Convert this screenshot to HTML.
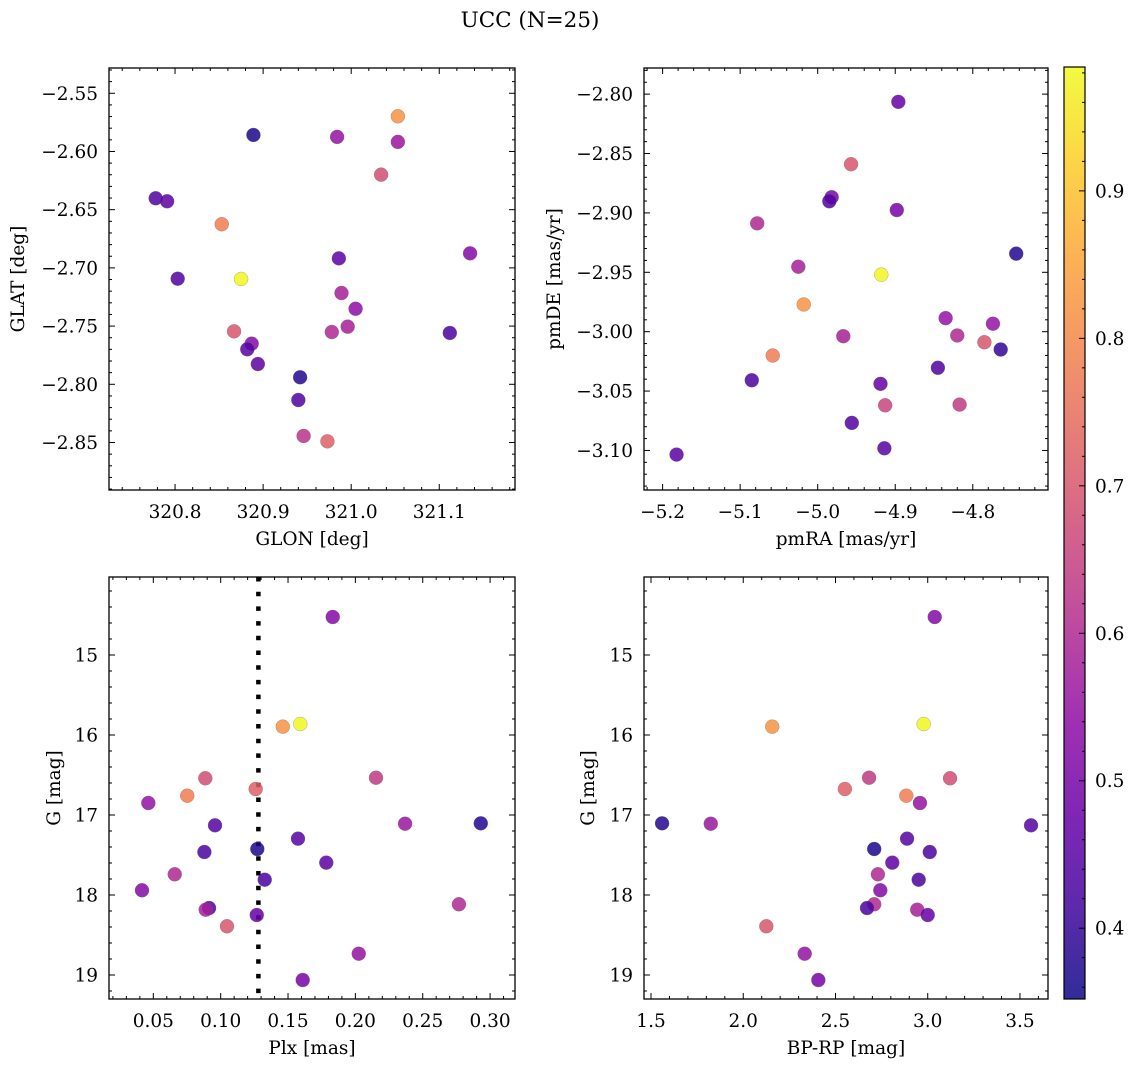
<!DOCTYPE html>
<html><head><meta charset="utf-8"><style>
html,body{margin:0;padding:0;background:#fff;}
svg{display:block;font-family:"DejaVu Serif","Liberation Serif",serif;}
</style></head><body>
<svg id="fig" width="1136" height="1067" viewBox="0 0 1136 1067" xmlns="http://www.w3.org/2000/svg">
<text x="530" y="27" font-size="21.5" text-anchor="middle">UCC (N=25)</text>
</svg>
<script>
// ---- data: top-left (GLON vs GLAT) ----
const tlGlon = [321.053,320.889,320.984,321.053,321.034,320.778,320.791,320.853,321.135,320.986,320.803,320.875,320.989,321.005,320.996,320.978,320.867,321.112,320.887,320.882,320.894,320.942,320.940,320.946,320.973];
const tlGlat = [-2.5698,-2.5858,-2.5875,-2.5918,-2.6199,-2.6402,-2.6428,-2.6625,-2.6875,-2.6918,-2.7093,-2.7095,-2.7216,-2.7351,-2.7505,-2.7551,-2.7545,-2.7559,-2.7651,-2.7699,-2.7826,-2.7940,-2.8135,-2.8444,-2.8490];
const tlProb = [0.82,0.37,0.55,0.56,0.68,0.44,0.46,0.78,0.52,0.46,0.44,0.98,0.58,0.54,0.58,0.6,0.7,0.43,0.52,0.45,0.46,0.38,0.44,0.62,0.72];
// ---- data: top-right (pmRA vs pmDE) ----
const trPmra = [-4.896,-4.957,-4.982,-4.985,-4.898,-5.078,-4.744,-5.025,-4.918,-5.018,-4.835,-4.774,-4.967,-4.820,-4.785,-4.764,-5.058,-4.845,-5.085,-4.919,-4.913,-4.817,-4.956,-4.914,-5.182];
const trPmde = [-2.8065,-2.8590,-2.8868,-2.8902,-2.8976,-2.9088,-2.9343,-2.9453,-2.9520,-2.9771,-2.9886,-2.9933,-3.0038,-3.0032,-3.0089,-3.0150,-3.0201,-3.0304,-3.0409,-3.0439,-3.0620,-3.0614,-3.0768,-3.0982,-3.1035];
const trProb = [0.47,0.7,0.5,0.44,0.5,0.6,0.38,0.58,0.98,0.82,0.55,0.55,0.58,0.6,0.7,0.4,0.78,0.44,0.43,0.47,0.66,0.64,0.44,0.45,0.46];
// ---- data: bottom panels (shared stars) ----
const plx  = [0.1832,0.1591,0.1461,0.0886,0.2153,0.1260,0.0752,0.0463,0.0958,0.2369,0.2931,0.1574,0.0879,0.1272,0.1784,0.0659,0.1327,0.0416,0.2769,0.0914,0.0889,0.1047,0.1268,0.2025,0.1609];
const gmag = [14.525,15.863,15.896,16.541,16.534,16.675,16.759,16.85,17.129,17.109,17.104,17.296,17.463,17.425,17.596,17.741,17.809,17.941,18.116,18.163,18.184,18.391,18.25,18.734,19.063];
const bprp = [3.038,2.978,2.157,3.121,2.682,2.551,2.884,2.958,3.560,1.824,1.560,2.888,3.011,2.710,2.808,2.730,2.951,2.743,2.710,2.671,2.943,2.125,3.000,2.333,2.407];
const botProb = [0.52,0.98,0.82,0.68,0.64,0.72,0.78,0.55,0.45,0.56,0.38,0.45,0.43,0.37,0.46,0.6,0.43,0.52,0.6,0.43,0.58,0.7,0.47,0.55,0.5];
const plxLine = [0.128];
// ---- ticks ----
const tlXTicks = [320.8,320.9,321.0,321.1];
const tlXLabels = ["320.8","320.9","321.0","321.1"];
const tlYTicks = [-2.55,-2.60,-2.65,-2.70,-2.75,-2.80,-2.85];
const tlYLabels = ["−2.55","−2.60","−2.65","−2.70","−2.75","−2.80","−2.85"];
const trXTicks = [-5.2,-5.1,-5.0,-4.9,-4.8];
const trXLabels = ["−5.2","−5.1","−5.0","−4.9","−4.8"];
const trYTicks = [-2.80,-2.85,-2.90,-2.95,-3.00,-3.05,-3.10];
const trYLabels = ["−2.80","−2.85","−2.90","−2.95","−3.00","−3.05","−3.10"];
const blXTicks = [0.05,0.10,0.15,0.20,0.25,0.30];
const blXLabels = ["0.05","0.10","0.15","0.20","0.25","0.30"];
const gTicks = [15,16,17,18,19];
const gLabels = ["15","16","17","18","19"];
const brXTicks = [1.5,2.0,2.5,3.0,3.5];
const brXLabels = ["1.5","2.0","2.5","3.0","3.5"];
const cbTicks = [0.4,0.5,0.6,0.7,0.8,0.9];
const cbLabels = ["0.4","0.5","0.6","0.7","0.8","0.9"];

const NS = "http://www.w3.org/2000/svg";
const svg = document.getElementById('fig');
const FS = 18.5;
const VMIN = 0.352, VMAX = 0.984;
const plasmaStops = ["#0d0887","#41049d","#6a00a8","#8f0da4","#b12a90","#cc4778","#e16462","#f2844b","#fca636","#fcce25","#f0f921"];
function hex(h){return [parseInt(h.substr(1,2),16),parseInt(h.substr(3,2),16),parseInt(h.substr(5,2),16)];}
function plasma(t){
  t=Math.max(0,Math.min(1,t));
  const p=t*10, i=Math.min(9,Math.floor(p)), f=p-i;
  const a=hex(plasmaStops[i]), b=hex(plasmaStops[i+1]);
  return `rgb(${Math.round(a[0]+(b[0]-a[0])*f)},${Math.round(a[1]+(b[1]-a[1])*f)},${Math.round(a[2]+(b[2]-a[2])*f)})`;
}
function colorOf(v){return plasma((v-VMIN)/(VMAX-VMIN));}
function mk(tag, attrs, parent){
  const e=document.createElementNS(NS,tag);
  for(const k in attrs) e.setAttribute(k,attrs[k]);
  (parent||svg).appendChild(e); return e;
}
function scale(d0,d1,r0,r1){return v=>r0+(v-d0)/(d1-d0)*(r1-r0);}

function panel(o){
  const g=mk('g',{});
  
  
  const sx=scale(o.xd[0],o.xd[1],o.L,o.R), sy=scale(o.yd[0],o.yd[1],o.T,o.B);
  if(o.vline){
    for(const v of o.vline){
      const ln=mk('line',{x1:sx(v),x2:sx(v),y1:o.T,y2:o.B,stroke:'#000','stroke-width':4.5,'stroke-dasharray':'4.5 10.2'},g);
      
      
    }
  }
  for(let i=0;i<o.xs.length;i++){
    const c=mk('circle',{cx:sx(o.xs[i]).toFixed(2),cy:sy(o.ys[i]).toFixed(2),r:7,fill:colorOf(o.cs[i]),'fill-opacity':0.85,stroke:'#666','stroke-opacity':0.5,'stroke-width':0.5},g);
    
    
  }
  mk('rect',{x:o.L,y:o.T,width:o.R-o.L,height:o.B-o.T,fill:'none',stroke:'#000','stroke-width':1.3},g);
  const xmin=o.xd[0],xmax=o.xd[1];
  for(let v=Math.ceil(xmin/o.xminor-1e-6)*o.xminor; v<=xmax+1e-9; v+=o.xminor){
    const x=sx(v); const major=o.xt.some(t=>Math.abs(t-v)<o.xminor*0.1);
    const len=major?6:3;
    mk('line',{x1:x,x2:x,y1:o.B,y2:o.B-len,stroke:'#000','stroke-width':1},g);
    mk('line',{x1:x,x2:x,y1:o.T,y2:o.T+len,stroke:'#000','stroke-width':1},g);
  }
  const ylo=Math.min(o.yd[0],o.yd[1]), yhi=Math.max(o.yd[0],o.yd[1]);
  for(let v=Math.ceil(ylo/o.yminor-1e-6)*o.yminor; v<=yhi+1e-9; v+=o.yminor){
    const y=sy(v); const major=o.yt.some(t=>Math.abs(t-v)<o.yminor*0.1);
    const len=major?6:3;
    mk('line',{x1:o.L,x2:o.L+len,y1:y,y2:y,stroke:'#000','stroke-width':1},g);
    mk('line',{x1:o.R,x2:o.R-len,y1:y,y2:y,stroke:'#000','stroke-width':1},g);
  }
  o.xt.forEach((v,i)=>{
    const t=mk('text',{x:sx(v),y:o.B+28,'font-size':FS,'text-anchor':'middle'},g);
    t.textContent=o.xl[i];
    
    
  });
  o.yt.forEach((v,i)=>{
    const t=mk('text',{x:o.L-11,y:sy(v)+6.5,'font-size':FS,'text-anchor':'end'},g);
    t.textContent=o.yl[i];
    
    
  });
  const xt=mk('text',{x:(o.L+o.R)/2,y:o.B+55,'font-size':FS,'text-anchor':'middle'},g);
  xt.textContent=o.xtitle;
  
  
  const yt=mk('text',{x:0,y:0,'font-size':FS,'text-anchor':'middle',transform:`translate(${o.ytx},${(o.T+o.B)/2}) rotate(-90)`},g);
  yt.textContent=o.ytitle;
  
  
}

panel({name:'glon-glat-panel',L:109,R:515,T:68,B:490,xd:[320.725,321.186],yd:[-2.5283,-2.8908],
  xs:tlGlon,ys:tlGlat,cs:tlProb,xt:tlXTicks,xl:tlXLabels,yt:tlYTicks,yl:tlYLabels,xminor:0.02,yminor:0.01,
  xtitle:'GLON [deg]',ytitle:'GLAT [deg]',ytx:24});
panel({name:'pm-panel',L:644,R:1048,T:68,B:490,xd:[-5.224,-4.703],yd:[-2.778,-3.1333],
  xs:trPmra,ys:trPmde,cs:trProb,xt:trXTicks,xl:trXLabels,yt:trYTicks,yl:trYLabels,xminor:0.02,yminor:0.01,
  xtitle:'pmRA [mas/yr]',ytitle:'pmDE [mas/yr]',ytx:560});
panel({name:'plx-g-panel',L:109,R:515,T:577,B:999,xd:[0.0171,0.3185],yd:[14.025,19.3],
  xs:plx,ys:gmag,cs:botProb,xt:blXTicks,xl:blXLabels,yt:gTicks,yl:gLabels,xminor:0.01,yminor:0.2,
  xtitle:'Plx [mas]',ytitle:'G [mag]',ytx:60,vline:plxLine});
panel({name:'cmd-panel',L:644,R:1048,T:577,B:999,xd:[1.462,3.652],yd:[14.025,19.3],
  xs:bprp,ys:gmag,cs:botProb,xt:brXTicks,xl:brXLabels,yt:gTicks,yl:gLabels,xminor:0.1,yminor:0.2,
  xtitle:'BP-RP [mag]',ytitle:'G [mag]',ytx:594});

(function(){
  const g=mk('g',{});
  
  
  const L=1064,R=1085,T=67,B=999;
  const defs=mk('defs',{},g);
  const lg=mk('linearGradient',{id:'cbg',x1:0,y1:1,x2:0,y2:0},defs);
  for(let i=0;i<=20;i++){mk('stop',{offset:i/20,'stop-color':plasma(i/20)},lg);}
  mk('rect',{x:L,y:T,width:R-L,height:B-T,fill:'url(#cbg)','fill-opacity':0.85},g);
  mk('rect',{x:L,y:T,width:R-L,height:B-T,fill:'none',stroke:'#000','stroke-width':1.2},g);
  const sy=scale(VMIN,VMAX,B,T);
  for(let v=0.36; v<=VMAX; v+=0.02){
    const major=cbTicks.some(t=>Math.abs(t-v)<0.002);
    mk('line',{x1:R,x2:R-(major?6:3),y1:sy(v),y2:sy(v),stroke:'#000','stroke-width':1},g);
  }
  cbTicks.forEach((v,i)=>{
    const t=mk('text',{x:R+10,y:sy(v)+6.5,'font-size':FS},g);
    t.textContent=cbLabels[i];
    
    
  });
})();
</script>
</body></html>
